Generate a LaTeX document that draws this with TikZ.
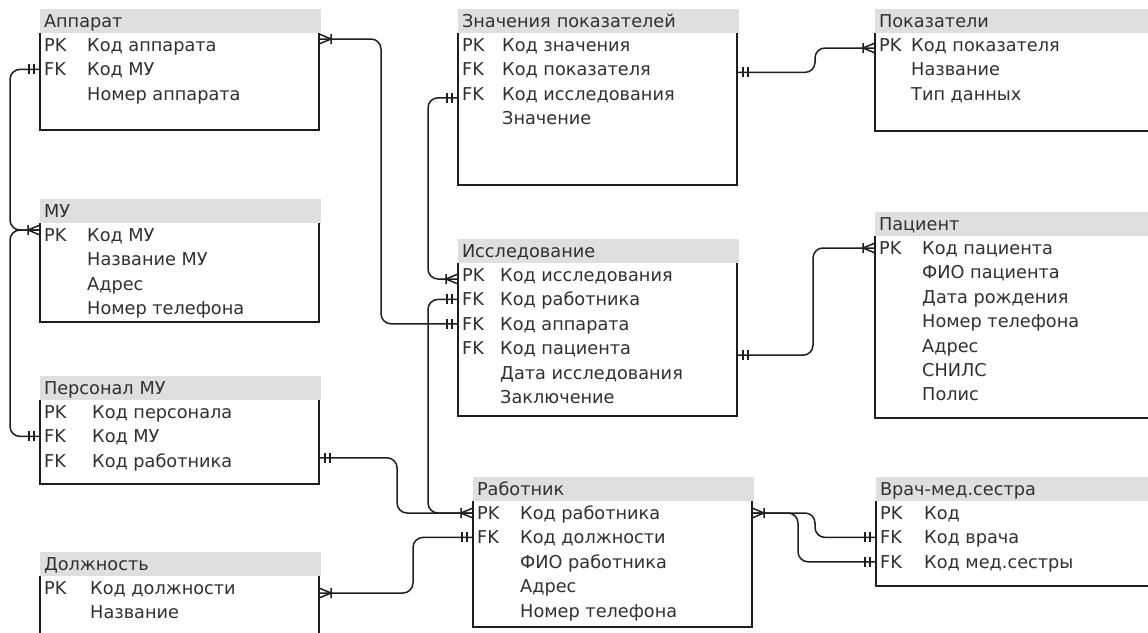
\documentclass[tikz,border=0pt]{standalone}
\usepackage{fontspec}
\setmainfont{DejaVu Sans}
\usetikzlibrary{positioning,calc}

\definecolor{hdrgray}{RGB}{223,223,223}
\definecolor{inkgray}{RGB}{48,48,48}
\definecolor{linegray}{RGB}{30,30,30}
\newcommand{\fieldfont}{\fontsize{17.7pt}{20pt}\selectfont}

\tikzset{
    oneend/.pic={\draw[endmark] (-6,-5) -- (-6,5) (-11,-5) -- (-11,5);},
    manyend/.pic={\draw[endmark] (0,-5) -- (-12,0) -- (0,5) (-12,-5) -- (-12,5);}
}

\begin{document}
\begin{tikzpicture}[
    x=1pt, y=-1pt,
    hdr/.style={fill=hdrgray, anchor=north west, minimum height=24pt, text width=273pt, inner xsep=4pt, inner ysep=0pt, outer sep=0pt, text height=12.8pt, text depth=0pt, align=left, font=\fieldfont, text=inkgray},
    body/.style={minimum width=279pt, inner sep=0pt, outer sep=0pt},
    fld/.style={anchor=west, inner sep=0pt, text height=12.8pt, text depth=0pt, font=\fieldfont, text=inkgray},
    tblframe/.style={draw=linegray, line width=1.5pt},
    conn/.style={draw=linegray, line width=1.5pt, rounded corners=10pt},
    endmark/.style={draw=linegray, line width=1.5pt, sharp corners}
]
    \useasboundingbox (0,0) rectangle (1148,632);
    \clip (0,0) rectangle (1148,632);
    \fill[white] (0,0) rectangle (1148,632);

    % Аппарат
    \node[hdr] (app) at (40,9) {Аппарат};
    \node[body, minimum height=97pt, below right=0pt of app.south west] (app-b) {};
    \foreach \k/\f [count=\i] in {PK/Код аппарата, FK/Код МУ, /Номер аппарата} {
        \node[fld] (app-\i) at ($(app-b.north west)+(4,{12+24.4*(\i-1)})$) {\k};
        \node[fld, right=43pt of app-\i.west] {\f};
    }

    % МУ
    \node[hdr] (mu) at (40,199) {МУ};
    \node[body, minimum height=99pt, below right=0pt of mu.south west] (mu-b) {};
    \foreach \k/\f [count=\i] in {PK/Код МУ, /Название МУ, /Адрес, /Номер телефона} {
        \node[fld] (mu-\i) at ($(mu-b.north west)+(4,{12+24.4*(\i-1)})$) {\k};
        \node[fld, right=43pt of mu-\i.west] {\f};
    }

    % Персонал МУ
    \node[hdr] (per) at (40,376) {Персонал МУ};
    \node[body, minimum height=84pt, below right=0pt of per.south west] (per-b) {};
    \foreach \k/\f [count=\i] in {PK/Код персонала, FK/Код МУ, FK/Код работника} {
        \node[fld] (per-\i) at ($(per-b.north west)+(4,{12+24.4*(\i-1)})$) {\k};
        \node[fld, right=48pt of per-\i.west] {\f};
    }

    % Должность
    \node[hdr] (dol) at (40,552) {Должность};
    \node[body, minimum height=110pt, below right=0pt of dol.south west] (dol-b) {};
    \foreach \k/\f [count=\i] in {PK/Код должности, /Название} {
        \node[fld] (dol-\i) at ($(dol-b.north west)+(4,{12+24.4*(\i-1)})$) {\k};
        \node[fld, right=46pt of dol-\i.west] {\f};
    }

    % Значения показателей
    \node[hdr] (zn) at (458,9) {Значения показателей};
    \node[body, minimum height=152pt, below right=0pt of zn.south west] (zn-b) {};
    \foreach \k/\f [count=\i] in {PK/Код значения, FK/Код показателя, FK/Код исследования, /Значение} {
        \node[fld] (zn-\i) at ($(zn-b.north west)+(4,{12+24.4*(\i-1)})$) {\k};
        \node[fld, right=40pt of zn-\i.west] {\f};
    }

    % Исследование
    \node[hdr] (isl) at (458,239) {Исследование};
    \node[body, minimum height=153pt, below right=0pt of isl.south west] (isl-b) {};
    \foreach \k/\f [count=\i] in {PK/Код исследования, FK/Код работника, FK/Код аппарата, FK/Код пациента, /Дата исследования, /Заключение} {
        \node[fld] (isl-\i) at ($(isl-b.north west)+(4,{12+24.4*(\i-1)})$) {\k};
        \node[fld, right=38pt of isl-\i.west] {\f};
    }

    % Работник
    \node[hdr] (rab) at (473,477) {Работник};
    \node[body, minimum height=126pt, below right=0pt of rab.south west] (rab-b) {};
    \foreach \k/\f [count=\i] in {PK/Код работника, FK/Код должности, /ФИО работника, /Адрес, /Номер телефона} {
        \node[fld] (rab-\i) at ($(rab-b.north west)+(4,{12+24.4*(\i-1)})$) {\k};
        \node[fld, right=43pt of rab-\i.west] {\f};
    }

    % Показатели
    \node[hdr] (pok) at (875,9) {Показатели};
    \node[body, minimum height=98pt, below right=0pt of pok.south west] (pok-b) {};
    \foreach \k/\f [count=\i] in {PK/Код показателя, /Название, /Тип данных} {
        \node[fld] (pok-\i) at ($(pok-b.north west)+(4,{12+24.4*(\i-1)})$) {\k};
        \node[fld, right=32pt of pok-\i.west] {\f};
    }

    % Пациент
    \node[hdr] (pac) at (875,212) {Пациент};
    \node[body, minimum height=182pt, below right=0pt of pac.south west] (pac-b) {};
    \foreach \k/\f [count=\i] in {PK/Код пациента, /ФИО пациента, /Дата рождения, /Номер телефона, /Адрес, /СНИЛС, /Полис} {
        \node[fld] (pac-\i) at ($(pac-b.north west)+(4,{12+24.4*(\i-1)})$) {\k};
        \node[fld, right=43pt of pac-\i.west] {\f};
    }

    % Врач-мед.сестра
    \node[hdr] (vr) at (876,477) {Врач-мед.сестра};
    \node[body, minimum height=85pt, below right=0pt of vr.south west] (vr-b) {};
    \foreach \k/\f [count=\i] in {PK/Код, FK/Код врача, FK/Код мед.сестры} {
        \node[fld] (vr-\i) at ($(vr-b.north west)+(4,{12+24.4*(\i-1)})$) {\k};
        \node[fld, right=44pt of vr-\i.west] {\f};
    }

    % table frames (open at the top)
    \foreach \t in {app,mu,per,dol,zn,isl,rab,pok,pac,vr}
        \draw[tblframe] (\t-b.north west) |- (\t-b.south east) -- (\t-b.north east);

    % Links
    \draw[conn] ($(app-b.north east)+(0,6)$) pic[xscale=-1]{manyend} -- ++(62,0) |- (isl-b.west |- isl-3) pic{oneend};
    \draw[conn] ($(mu-b.west |- mu-1)+(0,-5)$) pic{manyend} -- ++(-30,0) |- (app-b.west |- app-2) pic{oneend};
    \draw[conn] ($(mu-b.west |- mu-1)+(0,-5)$) -- ++(-30,0) |- (per-b.west |- per-2) pic{oneend};
    \draw[conn] ($(zn-b.west |- zn-3)+(0,4)$) pic{oneend} -- ++(-30,0) |- ($(isl-b.west |- isl-1)+(0,4)$) pic{manyend};
    \draw[conn] ($(zn-b.east |- zn-2)+(0,3)$) pic[xscale=-1]{oneend} -- ++(78,0) |- ($(pok-b.west |- pok-1)+(0,3)$) pic{manyend};
    \draw[conn] ($(isl-b.east |- isl-4)+(0,7)$) pic[xscale=-1]{oneend} -- ++(76,0) |- (pac-b.west |- pac-1) pic{manyend};
    \draw[conn] (isl-b.west |- isl-2) pic{oneend} -- ++(-30,0) |- (rab-b.west |- rab-1) pic{manyend};
    \draw[conn] ($(per-b.east |- per-3)+(0,-3)$) pic[xscale=-1]{oneend} -- ++(78,0) |- (rab-b.west |- rab-1);
    \draw[conn] ($(dol-b.east |- dol-1)+(0,5)$) pic[xscale=-1]{manyend} -- ++(94,0) |- (rab-b.west |- rab-2) pic{oneend};
    \draw[conn] (rab-b.east |- rab-1) pic[xscale=-1]{manyend} -- ++(63,0) |- (vr-b.west |- vr-2) pic{oneend};
    \draw[conn] (rab-b.east |- rab-1) -- ++(46,0) |- (vr-b.west |- vr-3) pic{oneend};

\end{tikzpicture}
\end{document}
